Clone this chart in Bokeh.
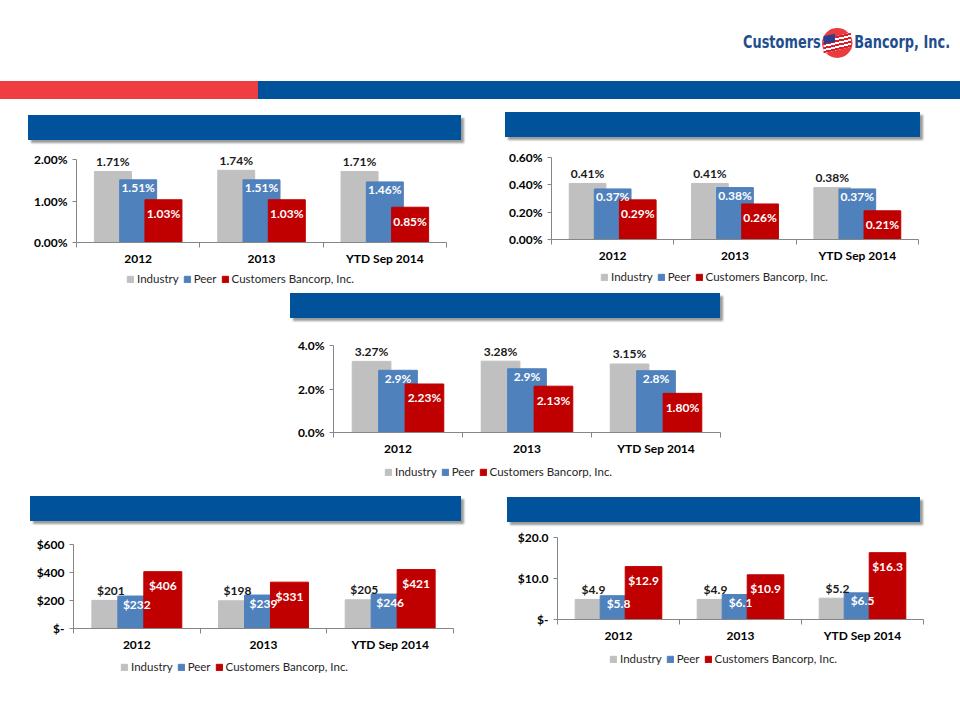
from bokeh.plotting import figure
from bokeh.layouts import column, row
from bokeh.core.properties import value
from bokeh.models import (ColumnDataSource, Range1d, FixedTicker, LabelSet, Legend,
                          LegendItem, Div, Spacer, PrintfTickFormatter)
from bokeh.embed import file_html
from bokeh.resources import INLINE

periods = ["2012", "2013", "YTD Sep 2014"]
series = ["Industry", "Peer", "Customers Bancorp, Inc."]
colors = ["#c0c0c0", "#4f81bd", "#c00000"]

# top left
c1_industry = [1.71, 1.74, 1.71]
c1_peer = [1.51, 1.51, 1.46]
c1_customers = [1.03, 1.03, 0.85]
c1_ticks = [0, 1, 2]

# top right
c2_industry = [0.41, 0.41, 0.38]
c2_peer = [0.37, 0.38, 0.37]
c2_customers = [0.29, 0.26, 0.21]
c2_ticks = [0, 0.2, 0.4, 0.6]

# middle
c3_industry = [3.27, 3.28, 3.15]
c3_peer = [2.86, 2.93, 2.84]
c3_customers = [2.23, 2.13, 1.80]
c3_ticks = [0, 2, 4]

# bottom left
c4_industry = [201, 198, 205]
c4_peer = [232, 239, 246]
c4_customers = [406, 331, 421]
c4_ticks = [0, 200, 400, 600]

# bottom right
c5_industry = [4.9, 4.9, 5.2]
c5_peer = [5.8, 6.1, 6.5]
c5_customers = [12.9, 10.9, 16.3]
c5_ticks = [0, 10, 20]

BLUE = "#00529b"
RED = "#ef3e42"
AXIS = "#868686"
FONT = "Lato"
DODGE = 0.205
PAD = 10        # room above the top tick so the value labels are not clipped
LEG_H = 16      # height of the strip that holds each legend
LEG_SHIFT = 56  # the strip legend lands this much right of its nominal x


def bar_chart(industry, peer, customers, ticks, tick_fmt, lab_fmt, peer_fmt,
              width, left, right, tick_y, base_y, bottom, zero_label=None):
    top = ticks[-1]
    p = figure(width=width, height=base_y + bottom, x_range=Range1d(0, len(periods)),
               y_range=Range1d(0, top * (1 + PAD / (base_y - tick_y))),
               output_backend="svg", toolbar_location=None, title=None,
               min_border_left=left, min_border_right=right,
               min_border_top=tick_y - PAD, min_border_bottom=bottom)
    xs = [i + 0.5 for i in range(len(periods))]
    src = ColumnDataSource(dict(
        x=xs,
        x_ind=[x - DODGE for x in xs],
        x_cus=[x + DODGE for x in xs],
        industry=industry, peer=peer, customers=customers,
        ind_lab=[lab_fmt.format(v) for v in industry],
        peer_lab=[peer_fmt.format(v) for v in peer],
        cus_lab=[lab_fmt.format(v) for v in customers],
    ))
    p.vbar(x="x_ind", top="industry", width=0.3, color=colors[0], source=src)
    p.vbar(x="x", top="peer", width=0.3, color=colors[1], source=src)
    p.vbar(x="x_cus", top="customers", width=0.3, color=colors[2], source=src)

    common = dict(source=src, text_font=value(FONT), text_font_style="bold",
                  text_font_size="12px", text_align="center", text_baseline="middle")
    p.add_layout(LabelSet(x="x_ind", y="industry", text="ind_lab", y_offset=10,
                          text_color="#1a1a1a", **common))
    p.add_layout(LabelSet(x="x", y="peer", text="peer_lab", y_offset=-8,
                          text_color="white", **common))
    p.add_layout(LabelSet(x="x_cus", y="customers", text="cus_lab", y_offset=-14,
                          text_color="white", **common))

    p.xgrid.visible = False
    p.ygrid.visible = False
    p.outline_line_color = None

    xa = p.xaxis[0]
    xa.ticker = FixedTicker(ticks=xs, minor_ticks=list(range(len(periods) + 1)))
    xa.major_label_overrides = {x: lab for x, lab in zip(xs, periods)}
    xa.major_tick_line_color = None
    xa.major_tick_in = 0
    xa.major_tick_out = 0
    xa.minor_tick_in = 0
    xa.minor_tick_out = 5
    xa.minor_tick_line_color = AXIS
    xa.axis_line_color = AXIS
    xa.major_label_standoff = 3
    xa.major_label_text_font = FONT
    xa.major_label_text_font_style = "bold"
    xa.major_label_text_font_size = "12px"
    xa.major_label_text_color = "black"

    ya = p.yaxis[0]
    ya.ticker = FixedTicker(ticks=ticks)
    ya.bounds = (0, top)
    ya.formatter = PrintfTickFormatter(format=tick_fmt)
    if zero_label:
        ya.major_label_overrides = {0: zero_label}
    ya.minor_tick_line_color = None
    ya.major_tick_in = 0
    ya.major_tick_out = 4
    ya.major_tick_line_color = AXIS
    ya.axis_line_color = AXIS
    ya.major_label_standoff = 5
    ya.major_label_text_font = FONT
    ya.major_label_text_font_style = "bold"
    ya.major_label_text_font_size = "12px"
    ya.major_label_text_color = "black"
    p.tags = [src]
    return p


def legend_strip(fig, legend_x):
    # the legend sits in its own thin figure right under the chart;
    # its renderers are hidden, they only lend their colours to the legend
    src = fig.tags[0]
    q = figure(width=fig.width, height=LEG_H, x_range=Range1d(0, 1), y_range=Range1d(0, 1),
               x_axis_type=None, y_axis_type=None, output_backend="svg",
               toolbar_location=None, title=None, min_border=0)
    q.outline_line_color = None
    q.xgrid.visible = False
    q.ygrid.visible = False
    rs = [q.vbar(x="x", top=col, width=0.3, color=c, source=src, visible=False)
          for col, c in zip(["industry", "peer", "customers"], colors)]
    legend = Legend(items=[LegendItem(label=s, renderers=[r]) for s, r in zip(series, rs)],
                    orientation="horizontal",
                    location=(fig.min_border_left + legend_x - LEG_SHIFT, 0),
                    border_line_color=None, background_fill_alpha=0,
                    inactive_fill_alpha=0,
                    label_text_font=FONT, label_text_font_size="11.5px",
                    label_text_color="#262626", glyph_width=8, glyph_height=8,
                    label_height=12, label_standoff=3, spacing=4,
                    padding=0, margin=0)
    q.add_layout(legend, "center")
    return q


def title_box(w):
    return Div(width=w, height=25, margin=0,
               styles={"background-color": BLUE, "box-shadow": "3px 3px 2px #9b9b9b"})


def panel(col_x, band_y, band_end, box_x, box_y, box_w, fig, fig_y, legend_x):
    items = [
        Spacer(width=1, height=box_y - band_y),
        row(Spacer(width=box_x - col_x, height=1), title_box(box_w)),
        Spacer(width=1, height=fig_y - box_y - 25),
        fig,
        legend_strip(fig, legend_x),
    ]
    rest = band_end - (fig_y + fig.height + LEG_H)
    if rest > 0:
        items.append(Spacer(width=1, height=rest))
    return column(*items)


fig1 = bar_chart(c1_industry, c1_peer, c1_customers, c1_ticks, "%.2f%%",
                 "{:.2f}%", "{:.2f}%", 446, 56, 20, 14, 97, 27)
fig2 = bar_chart(c2_industry, c2_peer, c2_customers, c2_ticks, "%.2f%%",
                 "{:.2f}%", "{:.2f}%", 440, 56, 17, 15, 97, 28)
fig3 = bar_chart(c3_industry, c3_peer, c3_customers, c3_ticks, "%.1f%%",
                 "{:.2f}%", "{:.1f}%", 460, 53, 20, 15, 102, 30)
fig4 = bar_chart(c4_industry, c4_peer, c4_customers, c4_ticks, "$%d",
                 "${:.0f}", "${:.0f}", 446, 53, 13, 16, 100, 29, "$-")
fig5 = bar_chart(c5_industry, c5_peer, c5_customers, c5_ticks, "$%.1f",
                 "${:.1f}", "${:.1f}", 440, 62, 12, 10, 92, 30, "$-")

flag = ("<span style='display:inline-block;position:relative;width:40px;height:30px;"
        "border-radius:50%;background:#ec3b3f;vertical-align:middle;margin:0 2px;'>"
        "<span style='position:absolute;left:2px;top:8px;width:36px;height:14px;"
        "transform:skewY(-10deg);background:repeating-linear-gradient(#d81e2c 0 2px,#fff 2px 4px);'></span>"
        "<span style='position:absolute;left:2px;top:7px;width:15px;height:8px;"
        "transform:skewY(-10deg);background:#2a3f8f;'></span></span>")
logo = Div(width=960, height=81, margin=0,
           text=("<div style='position:absolute;left:743px;top:28px;white-space:nowrap;"
                 "color:#1f4e8f;font-family:\"DejaVu Sans\",sans-serif;font-weight:bold;"
                 "font-size:17px;transform:scaleX(0.76);transform-origin:left center;'>"
                 "Customers" + flag + "Bancorp, Inc.</div>"))

bars = row(Div(width=258, height=18, margin=0, styles={"background-color": RED}),
           Div(width=702, height=18, margin=0, styles={"background-color": BLUE}))

top_band = row(Spacer(width=20, height=1),
               panel(20, 99, 290, 28, 115, 433, fig1, 145, 50),
               Spacer(width=29, height=1),
               panel(495, 99, 290, 505, 112, 415, fig2, 142, 49))
mid_band = row(Spacer(width=280, height=1),
               panel(280, 290, 485, 290, 293, 430, fig3, 330, 54))
bottom_band = row(Spacer(width=20, height=1),
                  panel(20, 485, 690, 30, 496, 431, fig4, 528, 50),
                  Spacer(width=29, height=1),
                  panel(495, 485, 690, 507, 497, 413, fig5, 527, 46))

page = column(logo, bars, top_band, mid_band, bottom_band)

open("out.html", "w").write(file_html(page, INLINE))
